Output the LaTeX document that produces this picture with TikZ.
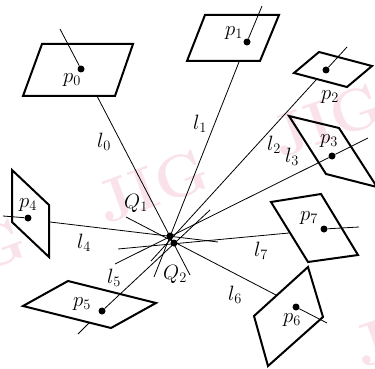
\documentclass[tikz,border=0pt]{standalone}
\usepackage{amsmath}
\usepackage{xcolor}
\usepackage{tikz}
\usetikzlibrary{positioning}
\definecolor{markpink}{RGB}{250, 226, 235}
\tikzset{
  plane/.style={draw=black, line width=2pt, line join=miter},
  ray/.style={draw=black, line width=0.8pt},
  pdot/.style={circle, fill=black, inner sep=0pt, minimum size=7pt},
  lab/.style={inner sep=0pt, font=\fontsize{21}{24}\selectfont},
  wmark/.style={inner sep=0pt, color=markpink, rotate=20, font=\fontsize{60}{62}\selectfont\bfseries}
}
\begin{document}
\begin{tikzpicture}[x=1pt, y=-1pt]
\useasboundingbox (0,0) rectangle (375,369);
% watermark
\node (wm1) [wmark] at (153,186) {JIG};
\node (wm2) [wmark] at (328,120) {JIG};
\node (wm3) [wmark] at (-30,255) {JIG};
\node (wm4) [wmark] at (410,330) {JIG};
% planes
\draw[plane] (42,44) -- (133,44) -- (115,96) -- (23,96) -- cycle;
\draw[plane] (205,15) -- (279,15) -- (260,61) -- (187,61) -- cycle;
\draw[plane] (319,52) -- (372,66) -- (347,87) -- (294,73) -- cycle;
\draw[plane] (289,116) -- (339,128) -- (377,187) -- (326,174) -- cycle;
\draw[plane] (12,170) -- (49,205) -- (49,257) -- (12,222) -- cycle;
\draw[plane] (68,281) -- (156,303) -- (111,328) -- (23,306) -- cycle;
\draw[plane] (308,267) -- (323,317) -- (268,366) -- (254,316) -- cycle;
\draw[plane] (271,202) -- (321,194) -- (358,255) -- (308,262) -- cycle;
% image points and centres
\node (p0) [pdot] at (81,69) {};
\node (p1) [pdot] at (247,42) {};
\node (p2) [pdot] at (326,70) {};
\node (p3) [pdot] at (332,156) {};
\node (p4) [pdot] at (28,218) {};
\node (p5) [pdot] at (102,311) {};
\node (p6) [pdot] at (296,307) {};
\node (p7) [pdot] at (324,229) {};
\node (Q1) [pdot] at (170,236) {};
\node (Q2) [pdot] at (174,243) {};
% free ends
\coordinate (t0) at (60,29);
\coordinate (t1) at (262,6);
\coordinate (t2) at (347,47);
\coordinate (t3) at (368,138);
\coordinate (t4) at (3,216);
\coordinate (t5) at (78,334);
\coordinate (t6) at (327,323);
\coordinate (t7) at (359,227);
\coordinate (e0) at (97,96);
\coordinate (e1) at (239,62);
\coordinate (e2) at (316,80);
\coordinate (e3) at (115,264);
\coordinate (e4) at (50,222);
\coordinate (e5) at (89,323);
\coordinate (e6) at (276,295);
\coordinate (e7) at (289,233);
\coordinate (b0) at (190,275);
\coordinate (b1) at (154,277);
\coordinate (b2) at (151,261);
\coordinate (b4) at (218,242);
\coordinate (b5) at (210,210);
\coordinate (b6) at (126,217);
\coordinate (b7) at (118,249);
% rays
\draw[ray] (t0) -- (p0);
\draw[ray] (t1) -- (p1);
\draw[ray] (t2) -- (p2);
\draw[ray] (t3) -- (p3);
\draw[ray] (t4) -- (p4);
\draw[ray] (t5) -- (e5);
\draw[ray] (t6) -- (p6);
\draw[ray] (t7) -- (p7);
\draw[ray] (e0) -- (b0);
\draw[ray] (e1) -- (b1);
\draw[ray] (e2) -- (b2);
\draw[ray] (p3) -- (e3);
\draw[ray] (e4) -- (b4);
\draw[ray] (p5) -- (b5);
\draw[ray] (e6) -- (b6);
\draw[ray] (e7) -- (b7);
% labels
\node (lp0) [lab] at (72,80) {$p_0$};
\node (lp1) [lab] at (234,33) {$p_1$};
\node (lp2) [lab] at (330,97) {$p_2$};
\node (lp3) [lab] at (329,141) {$p_3$};
\node (lp4) [lab] at (28,205) {$p_4$};
\node (lp5) [lab] at (82,304) {$p_5$};
\node (lp6) [lab] at (292,320) {$p_6$};
\node (lp7) [lab] at (309,218) {$p_7$};
\node (ll0) [lab] at (104,142) {$l_0$};
\node (ll1) [lab] at (200,124) {$l_1$};
\node (ll2) [lab] at (274,145) {$l_2$};
\node (ll3) [lab] at (292,157) {$l_3$};
\node (ll4) [lab] at (84,243) {$l_4$};
\node (ll5) [lab] at (114,278) {$l_5$};
\node (ll6) [lab] at (235,295) {$l_6$};
\node (ll7) [lab] at (261,251) {$l_7$};
\node (lQ1) [lab] at (136,203) {$Q_1$};
\node (lQ2) [lab] at (175,274) {$Q_2$};
\end{tikzpicture}
\end{document}
